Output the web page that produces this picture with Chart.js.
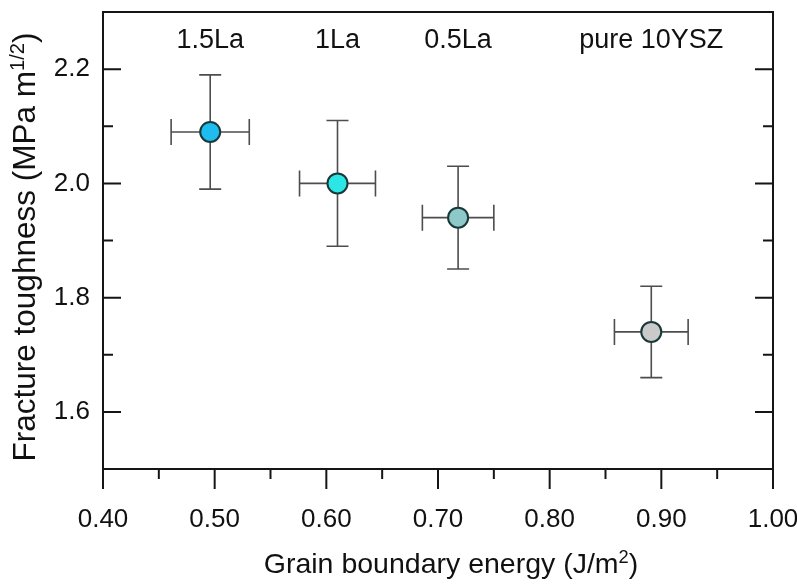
<!DOCTYPE html>
<html>
<head>
<meta charset="utf-8">
<script src="https://cdn.jsdelivr.net/npm/chart.js@4.4.0/dist/chart.umd.min.js"></script>
<style>
  html, body { margin: 0; padding: 0; background: #fff; }
</style>
</head>
<body>
<canvas id="grafico" width="797" height="584"></canvas>
<script>
// Dados
const amostras = ['1.5La', '1La', '0.5La', 'pure 10YSZ'];
const energia = [0.496, 0.610, 0.718, 0.891];
const energiaErro = [0.035, 0.034, 0.032, 0.033];
const tenacidade = [2.09, 2.00, 1.94, 1.74];
const tenacidadeErro = [0.10, 0.11, 0.09, 0.08];
const coresPontos = ['#1fbcf0', '#2ce6e6', '#8dc9c9', '#cacaca'];

const FONTE = '"Liberation Sans", Arial, Helvetica, sans-serif';
const COR_EIXO = '#151515';
const COR_ERRO = '#4d4d4d';

const ehMultiplo = (v, passo) => Math.abs(Math.round(v / passo) * passo - v) < 1e-6;

// Escreve um texto centralizado com partes em sobrescrito
function textoComSobrescrito(ctx, partes, x, y, tamanho) {
  const medir = (p) => {
    ctx.font = `${p.sup ? tamanho * 0.64 : tamanho}px ${FONTE}`;
    return ctx.measureText(p.t).width;
  };
  const total = partes.reduce((s, p) => s + medir(p), 0);
  let cx = x - total / 2;
  partes.forEach((p) => {
    const w = medir(p);
    ctx.fillText(p.t, cx, p.sup ? y - tamanho * 0.36 : y);
    cx += w;
  });
}

const decoracao = {
  id: 'decoracao',
  beforeDatasetsDraw(chart) {
    const { ctx, chartArea: a, scales: { x, y } } = chart;
    ctx.save();

    // moldura de cima e da direita
    ctx.strokeStyle = COR_EIXO;
    ctx.lineWidth = 2;
    ctx.beginPath();
    ctx.moveTo(a.left, a.top);
    ctx.lineTo(a.right, a.top);
    ctx.lineTo(a.right, a.bottom);
    ctx.stroke();

    // marcas do eixo x (para fora)
    x.ticks.forEach((t) => {
      const px = x.getPixelForValue(t.value);
      const len = ehMultiplo(t.value, 0.1) ? 20 : 10;
      ctx.beginPath();
      ctx.moveTo(px, a.bottom);
      ctx.lineTo(px, a.bottom + len);
      ctx.stroke();
    });

    // marcas do eixo y (para dentro, dos dois lados)
    y.ticks.forEach((t) => {
      if (t.value <= y.min + 1e-6 || t.value >= y.max - 1e-6) return;
      const py = y.getPixelForValue(t.value);
      const len = ehMultiplo(t.value, 0.2) ? 18 : 10;
      ctx.beginPath();
      ctx.moveTo(a.left, py);
      ctx.lineTo(a.left + len, py);
      ctx.moveTo(a.right, py);
      ctx.lineTo(a.right - len, py);
      ctx.stroke();
    });

    // barras de erro
    ctx.strokeStyle = COR_ERRO;
    ctx.lineWidth = 1.6;
    energia.forEach((ex, i) => {
      const cx = x.getPixelForValue(ex);
      const cy = y.getPixelForValue(tenacidade[i]);
      const y1 = y.getPixelForValue(tenacidade[i] + tenacidadeErro[i]);
      const y2 = y.getPixelForValue(tenacidade[i] - tenacidadeErro[i]);
      const x1 = x.getPixelForValue(ex - energiaErro[i]);
      const x2 = x.getPixelForValue(ex + energiaErro[i]);
      ctx.beginPath();
      ctx.moveTo(cx, y1); ctx.lineTo(cx, y2);
      ctx.moveTo(cx - 11, y1); ctx.lineTo(cx + 11, y1);
      ctx.moveTo(cx - 11, y2); ctx.lineTo(cx + 11, y2);
      ctx.moveTo(x1, cy); ctx.lineTo(x2, cy);
      ctx.moveTo(x1, cy - 13); ctx.lineTo(x1, cy + 13);
      ctx.moveTo(x2, cy - 13); ctx.lineTo(x2, cy + 13);
      ctx.stroke();
    });

    ctx.restore();
  },
  afterDraw(chart) {
    const { ctx, scales: { x, y } } = chart;
    ctx.save();
    ctx.fillStyle = '#111';
    ctx.textBaseline = 'alphabetic';

    // nomes das amostras no topo
    ctx.textAlign = 'center';
    ctx.font = `27px ${FONTE}`;
    amostras.forEach((nome, i) => {
      ctx.fillText(nome, x.getPixelForValue(energia[i]), y.getPixelForValue(2.237));
    });

    // títulos dos eixos
    ctx.textAlign = 'left';
    textoComSobrescrito(ctx, [
      { t: 'Grain boundary energy (J/m' },
      { t: '2', sup: true },
      { t: ')' },
    ], 451, 573, 28.5);

    ctx.translate(35, 247);
    ctx.rotate(-Math.PI / 2);
    textoComSobrescrito(ctx, [
      { t: 'Fracture toughness (MPa m' },
      { t: '1/2', sup: true },
      { t: ')' },
    ], 0, 0, 31.5);
    ctx.restore();
  },
};

const ctx = document.getElementById('grafico').getContext('2d');
new Chart(ctx, {
  type: 'scatter',
  data: {
    datasets: [{
      data: energia.map((v, i) => ({ x: v, y: tenacidade[i] })),
      backgroundColor: coresPontos,
      borderColor: '#1a3838',
      borderWidth: 2,
      pointRadius: 10,
    }],
  },
  options: {
    responsive: false,
    animation: false,
    layout: { padding: { left: 0, top: 9, right: 24, bottom: 0 } },
    plugins: { legend: { display: false }, tooltip: { enabled: false } },
    scales: {
      x: {
        type: 'linear',
        min: 0.4,
        max: 1.0,
        afterFit: (s) => { s.height = 115; s.paddingLeft = 0; s.paddingRight = 0; },
        grid: { display: false, drawTicks: false },
        border: { display: true, color: COR_EIXO, width: 2 },
        ticks: {
          stepSize: 0.05,
          padding: 35,
          color: '#111',
          font: { size: 26, family: FONTE },
          maxRotation: 0,
          autoSkip: false,
          callback: (v) => (ehMultiplo(v, 0.1) ? Number(v).toFixed(2) : ''),
        },
      },
      y: {
        min: 1.5,
        max: 2.3,
        afterFit: (s) => { s.width = 103; s.paddingTop = 0; s.paddingBottom = 0; },
        grid: { display: false, drawTicks: false },
        border: { display: true, color: COR_EIXO, width: 2 },
        ticks: {
          stepSize: 0.1,
          padding: 13,
          color: '#111',
          font: { size: 26, family: FONTE },
          autoSkip: false,
          callback: (v) => (ehMultiplo(v, 0.2) && v > 1.55 && v < 2.25 ? Number(v).toFixed(1) : ''),
        },
      },
    },
  },
  plugins: [decoracao],
});
</script>
</body>
</html>
